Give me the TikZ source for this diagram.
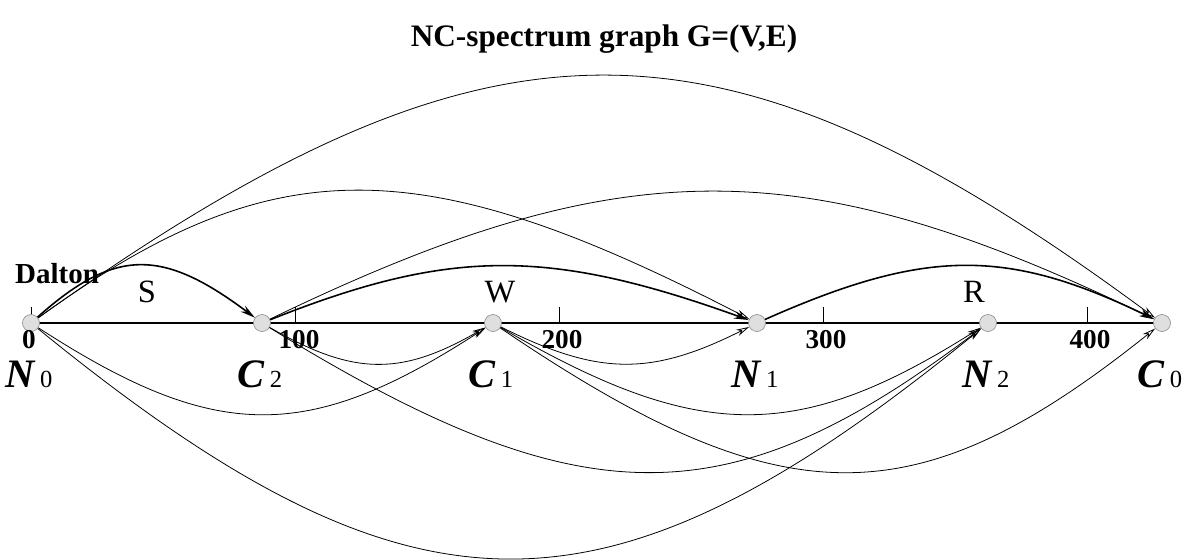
\documentclass[tikz,border=0pt]{standalone}
\usepackage{fontspec}
\setmainfont{Liberation Serif}
\usetikzlibrary{arrows.meta,backgrounds}

\newcommand{\vlab}[2]{{\fontsize{23}{23}\selectfont\bfseries\itshape #1}\hspace{3pt}{\fontsize{14}{14}\selectfont #2}}

\tikzset{
    vert/.style={circle,draw=gray!90,fill=gray!25,line width=0.35pt,minimum size=0.34cm,inner sep=0pt},
    thinarc/.style={line width=0.45pt,-{Stealth[open,length=7.5pt,width=3.8pt]}},
    thickarc/.style={line width=0.9pt,-{Stealth[length=8.5pt,width=4.2pt]}},
    ticklab/.style={anchor=base,font=\fontsize{15.5}{15.5}\selectfont\bfseries},
    vertlab/.style={anchor=base},
    partlab/.style={anchor=base,font=\fontsize{18.5}{18.5}\selectfont}
}

\begin{document}
\begin{tikzpicture}[x=0.02cm,y=-0.02cm]
    \useasboundingbox (0,0) rectangle (1191,559);

    \node [anchor=base,font=\fontsize{17.8}{17.8}\selectfont\bfseries] (title) at (604,46) {NC-spectrum graph G=(V,E)};

    \node [vert] (N0) at (31,323) {};
    \node [vert] (C2) at (262,323) {};
    \node [vert] (C1) at (493,323) {};
    \node [vert] (N1) at (757,323) {};
    \node [vert] (N2) at (988,323) {};
    \node [vert] (C0) at (1162,323) {};

    % mass axis
    \begin{pgfonlayer}{background}
        \draw [line width=0.7pt] (N0.center) -- (C0.center);
        \foreach \x in {31,295,559,823,1087}
            \draw [line width=0.4pt] (\x,323) -- ++(0,-16);
    \end{pgfonlayer}
    \node [ticklab] (t0) at (29,348) {0};
    \node [ticklab] (t1) at (299,348) {100};
    \node [ticklab] (t2) at (562,348) {200};
    \node [ticklab] (t3) at (826,348) {300};
    \node [ticklab] (t4) at (1090,348) {400};

    \node [vertlab] (lN0) at (29,387) {\vlab{N}{0}};
    \node [vertlab] (lC2) at (260,387) {\vlab{C}{2}};
    \node [vertlab] (lC1) at (491,387) {\vlab{C}{1}};
    \node [vertlab] (lN1) at (755,387) {\vlab{N}{1}};
    \node [vertlab] (lN2) at (986,387) {\vlab{N}{2}};
    \node [vertlab] (lC0) at (1160,387) {\vlab{C}{0}};

    \node [anchor=base,font=\fontsize{16.5}{16.5}\selectfont\bfseries] (dalton) at (57,283) {Dalton};
    \node [partlab] (S) at (147,302) {S};
    \node [partlab] (W) at (500,302) {W};
    \node [partlab] (R) at (974,302) {R};

    % spectrum path
    \draw [thickarc] (N0) .. controls (115,248) and (162,248) .. (C2);
    \draw [thickarc] (C2) .. controls (450,248) and (549,248) .. (N1);
    \draw [thickarc] (N1) .. controls (926,248) and (1007,248) .. (C0);

    % upper edges
    \draw [thinarc] (N0) .. controls (273,148) and (419,148) .. (N1);
    \draw [thinarc] (C2) .. controls (622,149) and (802,149) .. (C0);
    \draw [thinarc] (N0) .. controls (491,-5) and (718,-5) .. (C0);

    % lower edges
    \draw [thinarc] (N0) .. controls (216,443) and (308,443) .. (C1);
    \draw [thinarc] (N0) .. controls (414,635) and (605,635) .. (N2);
    \draw [thinarc] (C2) .. controls (354,376) and (401,376) .. (C1);
    \draw [thinarc] (C2) .. controls (582,520) and (728,520) .. (N2);
    \draw [thinarc] (C1) .. controls (599,376) and (651,376) .. (N1);
    \draw [thinarc] (C1) .. controls (699,443) and (798,443) .. (N2);
    \draw [thinarc] (C1) .. controls (783,520) and (916,520) .. (C0);
\end{tikzpicture}
\end{document}
